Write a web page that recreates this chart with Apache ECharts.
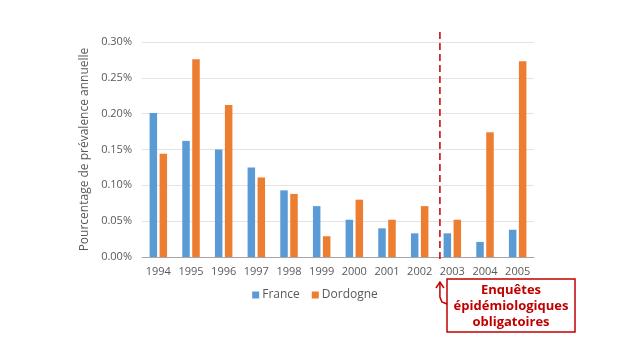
<!DOCTYPE html>
<html>
<head>
<meta charset="utf-8">
<script src="https://cdn.jsdelivr.net/npm/echarts@6/dist/echarts.min.js"></script>
<style>
  html, body { margin: 0; padding: 0; background: #fff; }
  #chart { width: 630px; height: 354px; }
</style>
</head>
<body>
<div id="chart"></div>
<script>
var years = ['1994','1995','1996','1997','1998','1999','2000','2001','2002','2003','2004','2005'];
// prévalence annuelle, en %
var france   = [0.201, 0.162, 0.150, 0.125, 0.093, 0.071, 0.052, 0.040, 0.033, 0.033, 0.021, 0.038];
var dordogne = [0.144, 0.276, 0.212, 0.111, 0.088, 0.029, 0.080, 0.052, 0.071, 0.052, 0.174, 0.273];
var yTicks = [0, 0.05, 0.10, 0.15, 0.20, 0.25, 0.30];
var cutoff = 8.62; // position de la ligne (entre 2002 et 2003)

var myChart = echarts.init(document.getElementById('chart'));
var txt = '#595959';
var red = '#c00000';
var font = '"Open Sans"';

option = {
    animation: false,
    textStyle: { fontFamily: font },
    grid: { left: 142, right: 96, top: 42, bottom: 97 },
    legend: {
        data: ['France', 'Dordogne'],
        left: 'center',
        top: 284,
        itemWidth: 7,
        itemHeight: 7,
        itemGap: 12,
        icon: 'rect',
        textStyle: { color: txt, fontSize: 12, padding: [0, 0, 0, -2] }
    },
    xAxis: [
        {
            type: 'category',
            data: years,
            axisTick: { show: false },
            axisLine: { lineStyle: { color: '#a6a6a6' } },
            axisLabel: { color: txt, fontSize: 11, margin: 9, interval: 0 }
        }
    ],
    yAxis: [
        {
            type: 'value',
            min: 0,
            max: 0.30,
            interval: 0.05,
            name: 'Pourcentage de prévalence annuelle',
            nameLocation: 'middle',
            nameGap: 51,
            nameTextStyle: { color: txt, fontSize: 12 },
            axisLine: { show: false },
            axisTick: { show: false },
            splitLine: { lineStyle: { color: '#e3e3e3' } },
            axisLabel: {
                color: txt,
                fontSize: 11,
                margin: 10,
                formatter: function (v) { return v.toFixed(2) + '%'; }
            }
        }
    ],
    series: [
        {
            name: 'France',
            type: 'bar',
            data: france,
            barWidth: 7.5,
            barGap: '33%',
            itemStyle: { color: '#5b9bd5' }
        },
        {
            name: 'Dordogne',
            type: 'bar',
            data: dordogne,
            barWidth: 7.5,
            itemStyle: { color: '#ed7d31' }
        }
    ]
};

myChart.setOption(option);

// ligne pointillée et annotation
var x0 = myChart.convertToPixel({ xAxisIndex: 0 }, years[8]);
var x1 = myChart.convertToPixel({ xAxisIndex: 0 }, years[9]);
var lx = x0 + (x1 - x0) * (cutoff - 8);

myChart.setOption({
    graphic: [
        {
            type: 'line',
            shape: { x1: lx, y1: 32, x2: lx, y2: 261 },
            style: { stroke: red, lineWidth: 1.5, lineDash: [7, 4] },
            z: 10
        },
        {
            type: 'polyline',
            shape: { points: [[447, 304], [lx + 2, 302], [lx, 297], [lx, 283]] },
            style: { stroke: red, lineWidth: 1.5, fill: null }
        },
        {
            type: 'polyline',
            shape: { points: [[lx - 4, 288], [lx, 282], [lx + 4, 288]] },
            style: { stroke: red, lineWidth: 1.5, fill: null }
        },
        {
            type: 'rect',
            shape: { x: 447, y: 279, width: 128, height: 53 },
            style: { fill: '#fff', stroke: red, lineWidth: 1.5 }
        },
        {
            type: 'text',
            x: 511,
            y: 306,
            style: {
                text: 'Enquêtes\népidémiologiques\nobligatoires',
                fill: red,
                font: 'bold 13px "Open Sans"',
                lineHeight: 16,
                align: 'center',
                verticalAlign: 'middle'
            }
        }
    ]
});
</script>
</body>
</html>
